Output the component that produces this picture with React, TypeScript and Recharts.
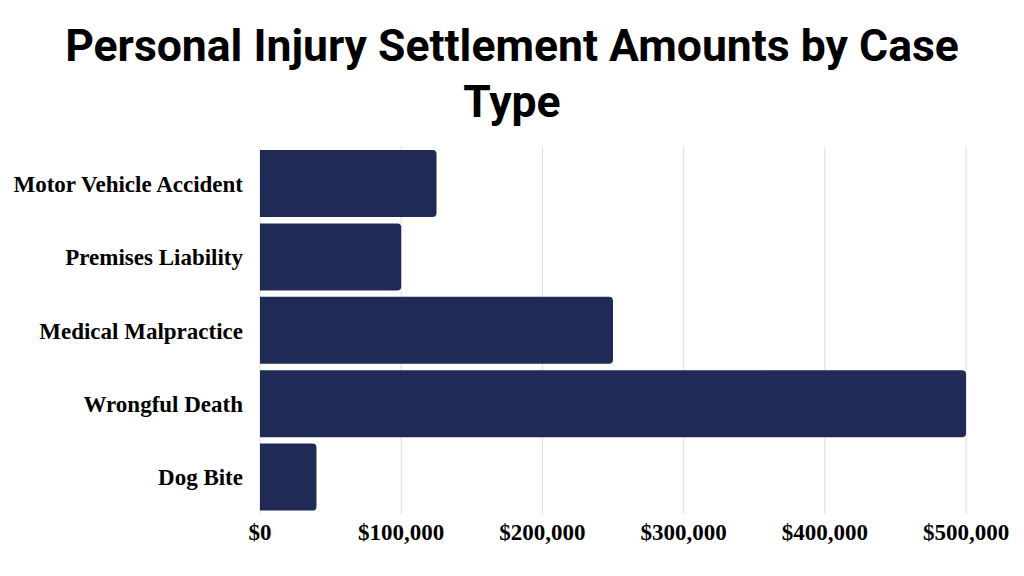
import React from 'react';
import { BarChart, Bar, XAxis, YAxis, CartesianGrid } from 'recharts';

const caseTypes = ['Motor Vehicle Accident', 'Premises Liability', 'Medical Malpractice', 'Wrongful Death', 'Dog Bite'];
const amounts = [125000, 100000, 250000, 500000, 40000];
const xTicks = [0, 100000, 200000, 300000, 400000, 500000];

const data = caseTypes.map((name, i) => ({ name, amount: amounts[i] }));

const money = (v: number) => '$' + v.toLocaleString('en-US');

const serif = '"Liberation Serif", "DejaVu Serif", serif';

const App: React.FC = () => {
    return (
        <div style={{ position: 'absolute', left: 0, top: 0, width: 1024, height: 576, background: '#fff' }}>
            <div
                style={{
                    position: 'absolute',
                    left: 0,
                    top: 18,
                    width: 1024,
                    textAlign: 'center',
                    fontFamily: 'Roboto, "Open Sans", sans-serif',
                    fontWeight: 700,
                    fontSize: 44.5,
                    lineHeight: '56px',
                    color: '#000',
                }}
            >
                Personal Injury Settlement Amounts by Case
                <br />
                Type
            </div>
            <BarChart
                width={1024}
                height={576}
                data={data}
                layout="vertical"
                margin={{ top: 147, right: 58, bottom: 32, left: 10 }}
                barCategoryGap={3}
            >
                <CartesianGrid horizontal={false} stroke="#dddddd" />
                <XAxis
                    type="number"
                    domain={[0, 500000]}
                    ticks={xTicks}
                    tickFormatter={money}
                    axisLine={false}
                    tickLine={false}
                    tickSize={0}
                    tickMargin={10}
                    interval={0}
                    tick={{ fontFamily: serif, fontWeight: 700, fontSize: 23, fill: '#000' }}
                />
                <YAxis
                    type="category"
                    dataKey="name"
                    width={250}
                    axisLine={false}
                    tickLine={false}
                    tickSize={0}
                    tickMargin={17}
                    interval={0}
                    tick={{ fontFamily: serif, fontWeight: 700, fontSize: 23, fill: '#000' }}
                />
                <Bar dataKey="amount" fill="#1f2a57" radius={[0, 4, 4, 0]} isAnimationActive={false} />
            </BarChart>
        </div>
    );
};

export default App;
